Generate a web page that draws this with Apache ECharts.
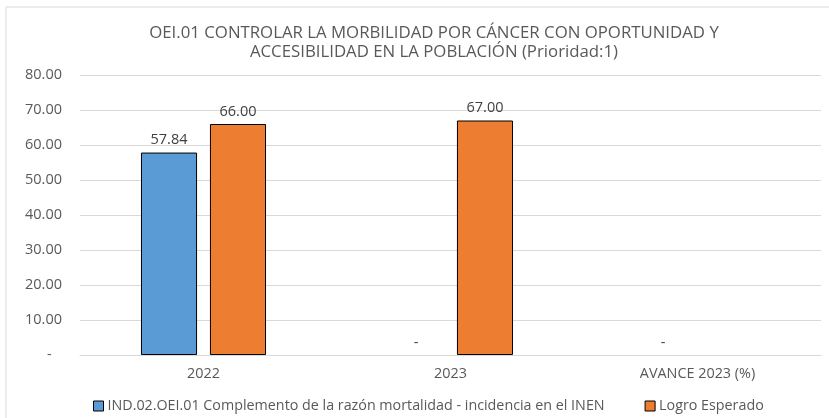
<!DOCTYPE html>
<html>

<head>
    <meta charset="UTF-8">
    <title>OEI.01</title>
    <script src="https://cdn.jsdelivr.net/npm/echarts@6/dist/echarts.min.js"></script>
</head>

<body style="margin:0;">
    <div id="bar" style="width: 829px; height: 418px;"></div>
    <script>
        var categories = ['2022', '2023', 'AVANCE 2023 (%)'];
        var indicador = [57.84, 0, 0];
        var logroEsperado = [66, 67, null];
        var yTicks = [0, 10, 20, 30, 40, 50, 60, 70, 80];

        var font = "'Open Sans', 'Noto Sans', sans-serif";

        function fmt(v) {
            return v === 0 ? '-' : v.toFixed(2);
        }

        function toData(arr) {
            return arr.map(function (v) {
                if (v === 0) return { value: v, itemStyle: { borderWidth: 0 } };
                return v;
            });
        }

        var labelOpt = {
            show: true,
            position: 'top',
            distance: 5,
            color: '#404040',
            fontFamily: font,
            fontSize: 14.5,
            formatter: function (p) { return fmt(p.value); }
        };

        var chart = echarts.init(document.getElementById('bar'), null, { renderer: 'canvas' });
        chart.setOption({
            backgroundColor: '#fff',
            animation: false,
            graphic: [{
                type: 'rect',
                shape: { x: 6, y: 7, width: 900, height: 500 },
                style: { fill: 'none', stroke: '#d9d9d9', lineWidth: 1 },
                silent: true
            }],
            title: {
                text: 'OEI.01 CONTROLAR LA MORBILIDAD POR CÁNCER CON OPORTUNIDAD Y\nACCESIBILIDAD EN LA POBLACIÓN (Prioridad:1)',
                left: 429,
                textAlign: 'center',
                top: 19,
                textStyle: {
                    fontFamily: font,
                    fontSize: 16.8,
                    fontWeight: 'normal',
                    color: '#595959',
                    lineHeight: 19
                }
            },
            legend: {
                left: 88,
                top: 394,
                itemWidth: 10,
                itemHeight: 10,
                itemGap: 40,
                icon: 'rect',
                textStyle: { fontFamily: font, fontSize: 14.3, color: '#595959', padding: [0, 0, 0, -1] },
                data: [
                    { name: 'IND.02.OEI.01 Complemento de la razón mortalidad - incidencia en el INEN', itemStyle: { borderColor: '#000', borderWidth: 1 } },
                    { name: 'Logro Esperado', itemStyle: { borderColor: '#000', borderWidth: 1 } }
                ]
            },
            grid: { left: 80, right: 8, top: 75, bottom: 63 },
            xAxis: {
                type: 'category',
                data: categories,
                axisLine: { lineStyle: { color: '#d9d9d9' } },
                axisTick: { show: false },
                axisLabel: { color: '#595959', fontFamily: font, fontSize: 14.4, margin: 12 }
            },
            yAxis: {
                type: 'value',
                min: yTicks[0],
                max: yTicks[yTicks.length - 1],
                interval: 10,
                axisLine: { show: false },
                axisTick: { show: false },
                splitLine: { lineStyle: { color: '#d9d9d9' } },
                axisLabel: {
                    color: '#595959',
                    fontFamily: font,
                    fontSize: 14.5,
                    margin: 18,
                    formatter: function (v) { return v === 0 ? '{z|-}' : v.toFixed(2); },
                    rich: { z: { width: 15, align: 'left', color: '#595959', fontFamily: font, fontSize: 14.5 } }
                }
            },
            series: [{
                name: 'IND.02.OEI.01 Complemento de la razón mortalidad - incidencia en el INEN',
                type: 'bar',
                data: toData(indicador),
                barWidth: '22.7%',
                barGap: '23%',
                itemStyle: { color: '#5b9bd5', borderColor: '#000', borderWidth: 1 },
                label: labelOpt
            }, {
                name: 'Logro Esperado',
                type: 'bar',
                data: toData(logroEsperado),
                barWidth: '22.7%',
                itemStyle: { color: '#ed7d31', borderColor: '#000', borderWidth: 1 },
                label: labelOpt
            }]
        });
    </script>
</body>

</html>
